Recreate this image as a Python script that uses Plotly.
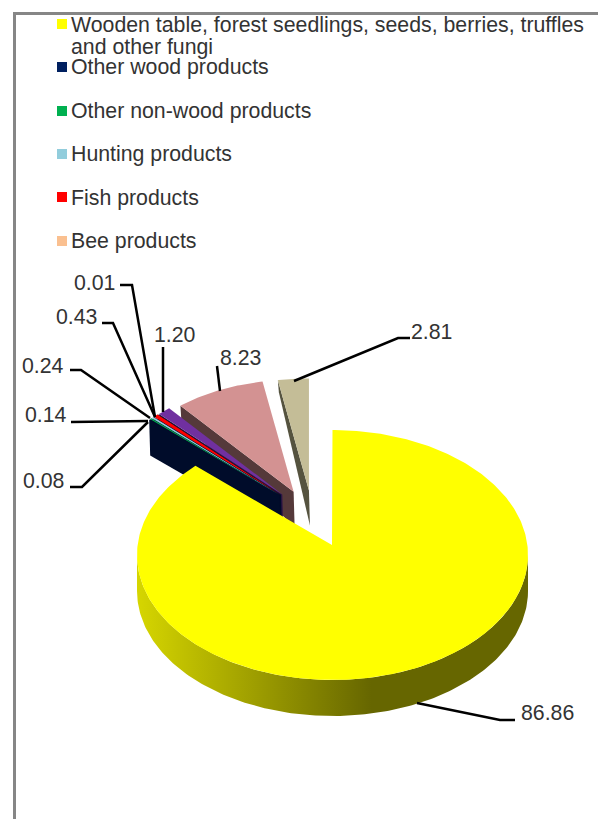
import numpy as np
import plotly.graph_objects as go

# ---- data ----
categories = ["Wooden table, forest seedlings, seeds, berries, truffles<br>and other fungi",
              "Other wood products", "Other non-wood products", "Hunting products",
              "Fish products", "Bee products", "Other 1", "Other 2", "Other 3"]
values = [86.86, 0.08, 0.14, 0.24, 0.43, 0.01, 1.20, 8.23, 2.81]
value_labels = ["86.86", "0.08", "0.14", "0.24", "0.43", "0.01", "1.20", "8.23", "2.81"]
colors = ["#FFFF00", "#002060", "#00B050", "#92CDDC", "#FF0000", "#FAC090",
          "#7030A0", "#D39292", "#C4BD97"]
side_colors = ["#666600", "#000C2A", "#000C2A", "#000C2A", "#000C2A", "#000C2A",
               "#2E1545", "#55393A", "#55533F"]
legend_count = 6

# ---- layout geometry (pixels of the page) ----
W, H = 598, 819
FONT = "Liberation Sans"
FS = 21.3
TXT = "#333333"
legend_y = [24, 67, 111, 154, 197, 241]
legend_text_y = [[25, 47], [67], [111], [154], [198], [241]]
label_xy = [(547, 713), (43, 481), (46, 415), (43, 366), (76, 317), (94, 283),
            (175, 335), (240, 358), (431, 332)]
leaders = [
    [(417, 703), (500, 720), (515, 720)],
    [(70, 487), (82, 487), (148, 422)],
    [(71, 422), (148, 421)],
    [(70, 370), (81, 370), (150, 418)],
    [(102, 323), (113, 323), (155, 417)],
    [(120, 285), (132, 285), (155, 417)],
    [(163, 347), (163, 412)],
    [(217, 366), (220, 391)],
    [(410, 338), (398, 338), (294, 381)],
]
APEX_MAIN = (332, 545)
MAIN_C = (332.5, 555)
MAIN_R = (195.5, 125)
DEPTH = 36
EXP_BASE = (313, 506)
EXP_D = (46, 15.6)
EXP_R = (177, 112)
outer_depth = [36, 36, 36, 36, 36, 36, 20, 16, 12]
apex_depth = 35

fig = go.Figure()


def poly(xs, ys, color, **kw):
    fig.add_trace(go.Scatter(x=list(xs), y=list(ys), mode="lines", fill="toself",
                             fillcolor=color, line=dict(width=0, color=color),
                             hoverinfo="skip", showlegend=False, **kw))


# angles from values (clockwise from 12 o'clock)
ends = np.cumsum(values) / np.sum(values) * 2 * np.pi
starts = np.r_[0, ends[:-1]]

# exploded slices, back to front
for i in range(len(values) - 1, 0, -1):
    a0, a1 = starts[i], ends[i]
    mid = (a0 + a1) / 2
    ax = EXP_BASE[0] + EXP_D[0] * np.sin(mid)
    ay = EXP_BASE[1] - EXP_D[1] * np.cos(mid)
    t = np.linspace(a0, a1, 40)
    rx = ax + EXP_R[0] * np.sin(t)
    ry = ay - EXP_R[1] * np.cos(t)
    # cut face along the starting edge
    poly([ax, rx[0], rx[0] + 1, ax + 1, ax],
         [ay, ry[0], ry[0] + outer_depth[i], ay + apex_depth, ay], side_colors[i])
    poly(np.r_[ax, rx, ax], np.r_[ay, ry, ay], colors[i])

# main slice: outer wall with gradient, then top
phi = np.linspace(np.pi / 2, 3 * np.pi / 2, 200)
wx = MAIN_C[0] + MAIN_R[0] * np.sin(phi)
wy = MAIN_C[1] - MAIN_R[1] * np.cos(phi)
fig.add_trace(go.Scatter(
    x=np.r_[wx, wx[::-1], wx[0]], y=np.r_[wy, wy[::-1] + DEPTH, wy[0]],
    mode="lines", fill="toself", line=dict(width=0), hoverinfo="skip", showlegend=False,
    fillgradient=dict(type="horizontal",
                      colorscale=[[0, "#D6D600"], [0.6, "#666600"], [1, "#666600"]])))

t = np.linspace(starts[0], ends[0], 400)
p = t - np.deg2rad(2.8) * np.sin(2 * t)
tx = MAIN_C[0] + MAIN_R[0] * np.sin(p)
ty = MAIN_C[1] - MAIN_R[1] * np.cos(p)
poly(np.r_[APEX_MAIN[0], tx, APEX_MAIN[0]], np.r_[APEX_MAIN[1], ty, APEX_MAIN[1]], colors[0])

# legend squares
fig.add_trace(go.Scatter(x=[62] * legend_count, y=legend_y, mode="markers",
                         marker=dict(symbol="square", size=10, color=colors[:legend_count]),
                         hoverinfo="skip", showlegend=False))

ann = []
for i in range(legend_count):
    for line, yy in zip(categories[i].split("<br>"), legend_text_y[i]):
        ann.append(dict(x=69, y=yy, text=line, xref="x", yref="y",
                        xanchor="left", yanchor="middle", align="left", showarrow=False,
                        font=dict(family=FONT, size=FS, color=TXT)))
for lab, (x, y) in zip(value_labels, label_xy):
    ann.append(dict(x=x, y=y, text=lab, xref="x", yref="y", xanchor="center",
                    yanchor="middle", showarrow=False,
                    font=dict(family=FONT, size=FS, color=TXT)))

shapes = [dict(type="path", xref="x", yref="y",
               path="M " + " L ".join(f"{x},{y}" for x, y in pts),
               line=dict(color="#000000", width=2.5)) for pts in leaders]
# frame
shapes.append(dict(type="path", xref="x", yref="y", path=f"M 14.5,{H} L 14.5,13.5 L {W},13.5",
                   line=dict(color="#868686", width=3)))

fig.update_layout(
    width=W, height=H, margin=dict(l=0, r=0, t=0, b=0), autosize=False,
    paper_bgcolor="white", plot_bgcolor="white", showlegend=False,
    xaxis=dict(range=[0, W], visible=False, fixedrange=True),
    yaxis=dict(range=[H, 0], visible=False, fixedrange=True),
    annotations=ann, shapes=shapes,
)
fig.write_html("out.html", config={"displayModeBar": False},
               post_script="document.body.style.margin='0';document.documentElement.style.overflow='hidden';")
